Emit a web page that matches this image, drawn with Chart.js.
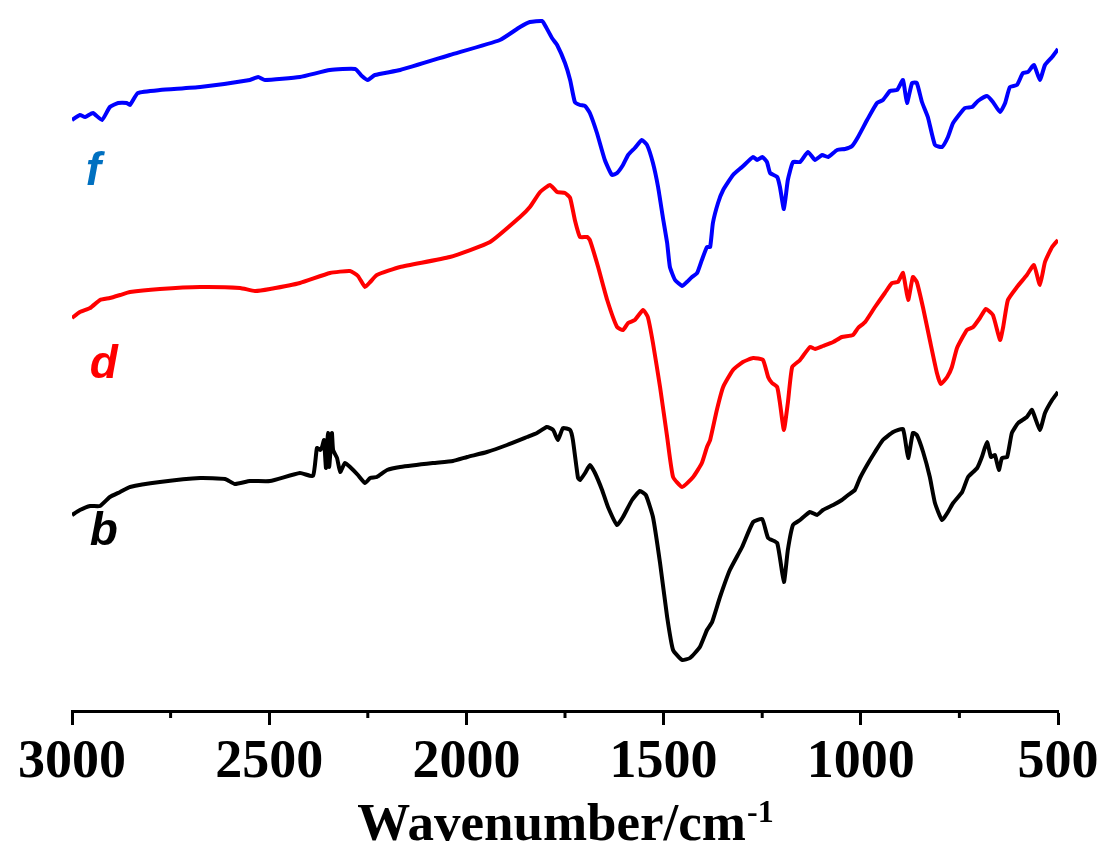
<!DOCTYPE html>
<html>
<head>
<meta charset="utf-8">
<title>FTIR spectra b, d, f</title>
<script src="https://cdn.jsdelivr.net/npm/chart.js@4"></script>
<style>
    html, body { margin: 0; padding: 0; background: #fff; }
</style>
</head>
<body>
<canvas id="irChart" width="1107" height="848"></canvas>
<script>
// Spectra: [wavenumber (cm-1), relative transmittance (a.u., offset per trace)]
const spectrumF = [
    [3000,591],[2980,596],[2967,594],[2947,598],[2924,591],[2904,604],[2883,608],[2861,608],[2853,606],[2833,618],
    [2777,621],[2675,624],[2549,631],[2528,634],[2511,631],[2422,634],[2346,641],[2282,642],[2265,635],[2250,631],
    [2232,636],[2168,641],[2042,656],[1915,671],[1864,684],[1839,689],[1808,690],[1801,686],[1783,673],[1770,666],
    [1750,648],[1737,631],[1725,609],[1712,606],[1699,605],[1687,598],[1669,578],[1649,551],[1631,536],[1618,538],
    [1603,546],[1590,556],[1573,563],[1555,571],[1542,566],[1527,548],[1514,524],[1502,494],[1491,468],[1484,444],
    [1471,431],[1453,425],[1441,429],[1428,434],[1415,438],[1403,451],[1390,464],[1382,464],[1375,488],[1362,508],
    [1349,521],[1324,536],[1301,544],[1273,554],[1263,551],[1250,554],[1238,549],[1230,538],[1212,534],[1205,524],
    [1195,502],[1185,531],[1172,549],[1154,549],[1134,559],[1116,551],[1098,556],[1083,554],[1060,561],[1040,562],
    [1022,565],[1007,574],[984,591],[959,608],[944,611],[926,620],[908,621],[893,631],[883,608],[870,628],
    [858,628],[845,609],[830,594],[812,566],[794,564],[779,574],[766,588],[736,603],[718,604],[703,610],
    [680,615],[665,609],[647,599],[634,608],[622,624],[604,626],[589,638],[576,639],[561,646],[546,631],
    [533,646],[515,654],[500,662]
];
const spectrumD = [
    [3000,393],[2980,399],[2954,403],[2929,411],[2904,413],[2878,416],[2853,419],[2777,422],[2675,424],[2574,423],
    [2536,420],[2498,422],[2422,428],[2346,438],[2295,440],[2275,435],[2257,424],[2244,429],[2227,436],[2168,444],
    [2042,454],[1940,469],[1864,494],[1839,504],[1813,519],[1788,526],[1770,519],[1750,518],[1737,513],[1725,491],
    [1712,474],[1694,474],[1687,471],[1666,444],[1643,411],[1618,384],[1603,381],[1590,388],[1573,391],[1552,401],
    [1540,394],[1527,368],[1509,324],[1491,274],[1476,234],[1453,224],[1425,234],[1403,248],[1390,264],[1382,271],
    [1365,301],[1349,324],[1324,341],[1299,349],[1273,353],[1248,351],[1235,334],[1225,328],[1212,324],[1205,308],
    [1195,281],[1185,308],[1174,344],[1154,351],[1129,364],[1116,362],[1096,365],[1070,369],[1048,374],[1020,376],
    [1007,383],[989,389],[964,404],[939,418],[921,428],[906,429],[893,438],[880,411],[868,434],[858,429],
    [842,403],[825,371],[807,338],[797,327],[781,334],[769,344],[756,363],[731,381],[715,384],[698,393],
    [683,402],[665,396],[647,371],[639,384],[627,411],[604,424],[579,436],[561,446],[546,426],[533,449],
    [515,464],[500,471]
];
const spectrumB = [
    [3000,196],[2980,201],[2954,205],[2929,205],[2904,214],[2878,219],[2853,224],[2777,229],[2675,233],[2612,232],
    [2587,227],[2549,230],[2498,230],[2422,238],[2389,235],[2379,263],[2371,261],[2366,264],[2361,271],[2356,243],
    [2351,278],[2348,244],[2341,278],[2338,261],[2328,253],[2320,239],[2308,248],[2295,244],[2275,236],[2257,228],
    [2244,233],[2227,234],[2201,241],[2168,244],[2085,248],[2034,250],[1998,254],[1948,259],[1897,266],[1846,274],
    [1821,278],[1796,284],[1780,281],[1768,271],[1755,283],[1737,281],[1730,271],[1717,233],[1712,231],[1699,238],
    [1687,246],[1674,238],[1656,221],[1641,204],[1618,186],[1603,194],[1580,211],[1560,220],[1545,216],[1527,194],
    [1509,148],[1491,94],[1476,61],[1453,51],[1433,53],[1408,64],[1390,81],[1377,89],[1357,114],[1332,141],
    [1301,164],[1273,189],[1250,192],[1235,173],[1212,168],[1195,129],[1185,161],[1172,186],[1154,191],[1129,199],
    [1111,196],[1096,201],[1070,206],[1048,211],[1032,216],[1015,221],[1002,233],[984,246],[964,259],[944,271],
    [918,279],[893,282],[880,253],[868,278],[858,276],[842,259],[825,234],[812,208],[794,191],[779,199],
    [766,208],[743,219],[728,234],[705,243],[693,254],[680,269],[670,254],[660,256],[650,241],[642,253],
    [629,254],[617,278],[601,288],[579,294],[566,301],[546,281],[533,298],[515,311],[500,319]
];

const seriesNames = ['f', 'd', 'b'];
const seriesColors = ['#0000ff', '#ff0000', '#000000'];
const labelColors = ['#0070c0', '#ff0000', '#000000'];
const majorTicks = [3000, 2500, 2000, 1500, 1000, 500];
const minorTicks = [2750, 2250, 1750, 1250, 750];
const axisTitle = 'Wavenumber/cm';
const axisTitleSup = '-1';

const serif = '"Liberation Serif", "Times New Roman", serif';

// Letters next to each trace, minor ticks and the axis title with its superscript
const decorations = {
    id: 'decorations',
    afterDraw(chart) {
        const { ctx, chartArea, scales: { x, y } } = chart;
        ctx.save();

        ctx.strokeStyle = '#000';
        ctx.lineWidth = 3;
        minorTicks.forEach(v => {
            const px = x.getPixelForValue(v);
            ctx.beginPath();
            ctx.moveTo(px, chartArea.bottom);
            ctx.lineTo(px, chartArea.bottom + 7);
            ctx.stroke();
        });

        // letter spots: [wavenumber, level]
        const spots = [[2965, 526], [2955, 333], [2955, 166]];
        ctx.font = 'italic bold 46px "Liberation Sans", Arial, sans-serif';
        ctx.textAlign = 'left';
        ctx.textBaseline = 'alphabetic';
        seriesNames.forEach((name, i) => {
            ctx.fillStyle = labelColors[i];
            ctx.fillText(name, x.getPixelForValue(spots[i][0]), y.getPixelForValue(spots[i][1]));
        });

        ctx.fillStyle = '#000';
        ctx.font = 'bold 53px ' + serif;
        const w1 = ctx.measureText(axisTitle).width;
        ctx.font = 'bold 32px ' + serif;
        const w2 = ctx.measureText(axisTitleSup).width;
        const startX = (chartArea.left + chartArea.right) / 2 - (w1 + w2) / 2;
        ctx.font = 'bold 53px ' + serif;
        ctx.fillText(axisTitle, startX, 840);
        ctx.font = 'bold 32px ' + serif;
        ctx.fillText(axisTitleSup, startX + w1 + 1, 822);

        ctx.restore();
    }
};

const toPoints = spectrum => spectrum.map(([w, v]) => ({ x: w, y: v }));

const ctx = document.getElementById('irChart').getContext('2d');
const irChart = new Chart(ctx, {
    type: 'line',
    data: {
        datasets: [spectrumF, spectrumD, spectrumB].map((spectrum, i) => ({
            label: seriesNames[i],
            data: toPoints(spectrum),
            borderColor: seriesColors[i],
            borderWidth: 4,
            pointRadius: 0,
            tension: 0.15,
            fill: false
        }))
    },
    options: {
        responsive: false,
        animation: false,
        layout: { padding: { top: 10, left: 72, right: 49, bottom: 0 } },
        plugins: {
            legend: { display: false },
            tooltip: { enabled: false }
        },
        scales: {
            x: {
                type: 'linear',
                reverse: true,
                min: 500,
                max: 3000,
                border: { display: true, color: '#000', width: 3 },
                grid: {
                    drawOnChartArea: false,
                    drawTicks: true,
                    tickLength: 14,
                    tickWidth: 3,
                    tickColor: '#000'
                },
                afterBuildTicks: scale => {
                    scale.ticks = majorTicks.map(v => ({ value: v }));
                },
                afterFit: scale => {
                    scale.height = 137;
                },
                ticks: {
                    autoSkip: false,
                    maxRotation: 0,
                    padding: 6,
                    color: '#000',
                    font: { family: serif, size: 54, weight: 'bold' },
                    callback: value => String(value)
                }
            },
            y: {
                display: false,
                min: 0,
                max: 701
            }
        }
    },
    plugins: [decorations]
});
</script>
</body>
</html>
